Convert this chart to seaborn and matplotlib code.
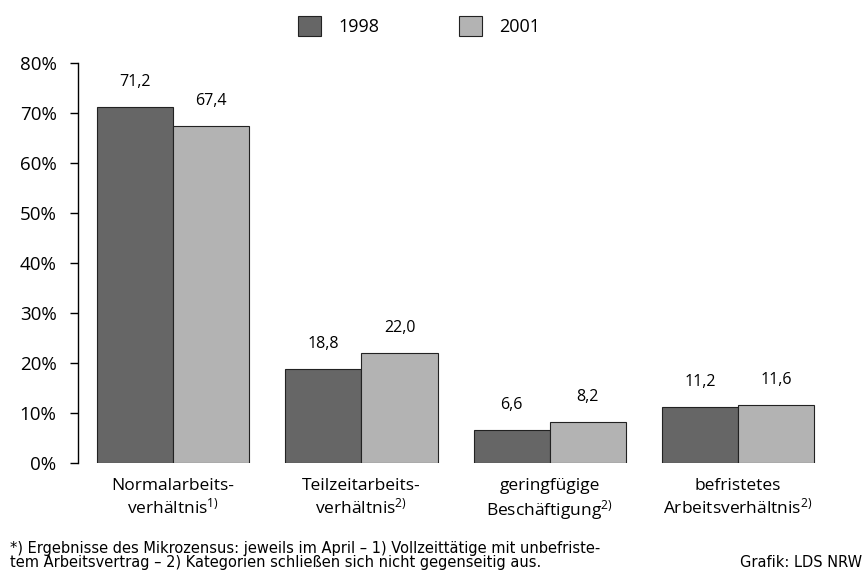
import pandas as pd
import seaborn as sns
import matplotlib.pyplot as plt
from matplotlib.patches import Patch

categories = ['Normalarbeits-\nverhältnis$^{1)}$',
              'Teilzeitarbeits-\nverhältnis$^{2)}$',
              'geringfügige\nBeschäftigung$^{2)}$',
              'befristetes\nArbeitsverhältnis$^{2)}$']
years = ['1998', '2001']
values_1998 = [71.2, 18.8, 6.6, 11.2]
values_2001 = [67.4, 22.0, 8.2, 11.6]
yticks = [0, 10, 20, 30, 40, 50, 60, 70, 80]

colors = ['#666666', '#b3b3b3']

sns.set_theme(style='white')
plt.rcParams['font.family'] = ['Open Sans', 'DejaVu Sans']
plt.rcParams['mathtext.fontset'] = 'custom'
plt.rcParams['mathtext.rm'] = 'Open Sans'
plt.rcParams['mathtext.it'] = 'Open Sans'
plt.rcParams['mathtext.default'] = 'rm'
plt.rcParams['text.color'] = 'black'
plt.rcParams['xtick.color'] = 'black'
plt.rcParams['ytick.color'] = 'black'
plt.rcParams['xtick.labelcolor'] = 'black'
plt.rcParams['ytick.labelcolor'] = 'black'

df = pd.DataFrame({
    'kategorie': categories * 2,
    'jahr': [years[0]] * 4 + [years[1]] * 4,
    'wert': values_1998 + values_2001,
})

fig = plt.figure(figsize=(8.68, 5.75), dpi=100)
ax = fig.add_axes([0.0899, 0.1948, 0.87, 0.6956])

sns.barplot(data=df, x='kategorie', y='wert', hue='jahr', palette=colors,
            width=0.81, edgecolor='#222222', linewidth=0.8, saturation=1,
            legend=False, ax=ax)

for cont in ax.containers:
    for bar in cont:
        h = bar.get_height()
        ax.annotate(('%.1f' % h).replace('.', ','),
                    (bar.get_x() + bar.get_width() / 2, h),
                    xytext=(0, 12), textcoords='offset points',
                    ha='center', va='bottom', fontsize=11.5, color='black')

ax.set_xlim(-0.505, 3.505)
ax.set_ylim(0, 80)
ax.set_yticks(yticks)
ax.set_yticklabels(['%d%%' % t for t in yticks], fontsize=13.5, color='black')
ax.tick_params(axis='y', which='both', left=True, length=5.5, width=1, color='black', pad=10)
ax.tick_params(axis='x', length=0, pad=11, labelsize=12.5, labelcolor='black')
ax.set_xlabel('')
ax.set_ylabel('')
for s in ['top', 'right', 'bottom']:
    ax.spines[s].set_visible(False)
ax.spines['left'].set_color('black')
ax.spines['left'].set_linewidth(1)

handles = [Patch(facecolor=c, edgecolor='#222222', linewidth=0.8) for c in colors]
fig.legend(handles, years, loc='upper center', bbox_to_anchor=(0.483, 1.0),
           ncol=2, frameon=False, fontsize=13, handlelength=1.3, handleheight=1.3,
           columnspacing=4.4, handletextpad=0.95)

foot_font = ['DejaVu Sans']
fig.text(0.012, 0.034, '*) Ergebnisse des Mikrozensus: jeweils im April – 1) Vollzeittätige mit unbefriste-\n'
         'tem Arbeitsvertrag – 2) Kategorien schließen sich nicht gegenseitig aus.',
         fontsize=10.5, va='center', ha='left', linespacing=0.92, family=foot_font)
fig.text(0.993, 0.0226, 'Grafik: LDS NRW', fontsize=10.5, ha='right', va='center',
         family=foot_font)

fig.savefig('out.png', dpi=100)
